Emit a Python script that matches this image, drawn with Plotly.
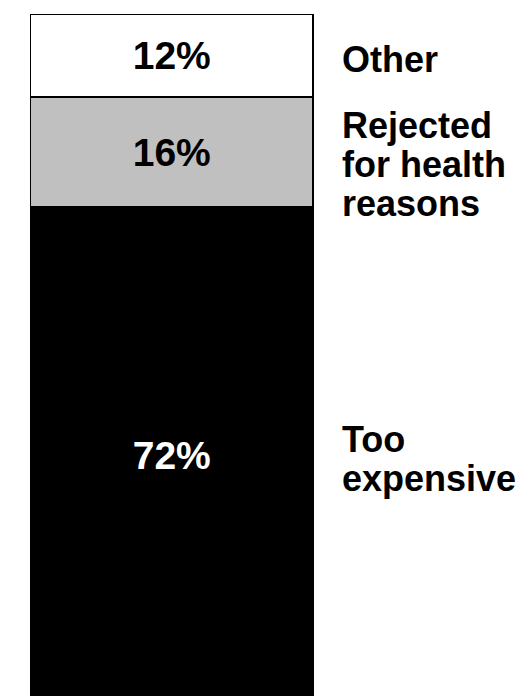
import plotly.graph_objects as go

# Data
categories = ["Too expensive", "Rejected for health reasons", "Other"]
values = [72, 16, 12]
value_labels = ["72%", "16%", "12%"]
side_labels = ["Too<br>expensive", "Rejected<br>for health<br>reasons", "Other"]

# Styles
fills = ["#000000", "#C0C0C0", "#FFFFFF"]
text_colors = ["#FFFFFF", "#000000", "#000000"]
label_extra_shift = [-3, -12, -4]
FONT = "Liberation Sans, Arial, sans-serif"

fig = go.Figure()
for cat, v, lab, fc, tc in zip(categories, values, value_labels, fills, text_colors):
    fig.add_trace(go.Bar(
        x=[0], y=[v], name=cat, width=1,
        marker=dict(color=fc, line=dict(color="#000000", width=1.5)),
        text=[lab], textposition="inside", insidetextanchor="middle",
        textangle=0, constraintext="none",
        textfont=dict(family=FONT, size=39, color=tc, weight="bold"),
        hoverinfo="skip",
    ))

# side labels, one annotation per line for tight line spacing
cum = 0
line_gap = 39
for v, lab, extra in zip(values, side_labels, label_extra_shift):
    mid = cum + v / 2
    cum += v
    lines = lab.split("<br>")
    n = len(lines)
    for i, ln in enumerate(lines):
        fig.add_annotation(
            x=0.596, y=mid, xref="x", yref="y",
            text=ln, showarrow=False, xanchor="left", yanchor="middle",
            yshift=-(i - (n - 1) / 2) * line_gap + extra,
            font=dict(family=FONT, size=36, color="#000000", weight="bold"),
        )

fig.update_layout(
    width=529, height=696,
    margin=dict(l=0, r=0, t=6, b=0),
    barmode="stack", showlegend=False,
    plot_bgcolor="#FFFFFF", paper_bgcolor="#FFFFFF",
    xaxis=dict(range=[-0.5796, 1.293], visible=False, fixedrange=True),
    yaxis=dict(range=[0, 100], visible=False, fixedrange=True),
)

fig.write_html("out.html")
